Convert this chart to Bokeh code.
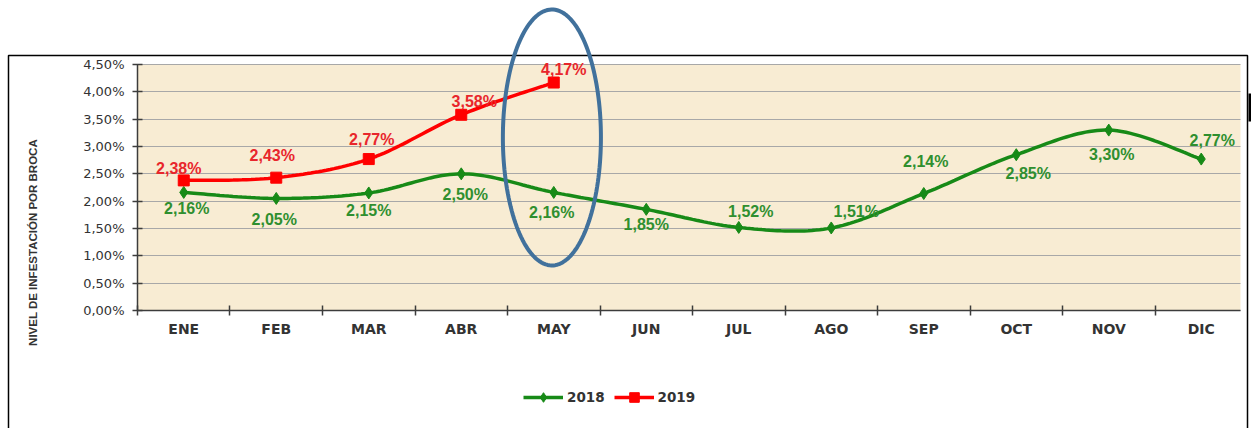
import numpy as np
from bokeh.plotting import figure
from bokeh.models import (ColumnDataSource, FixedTicker, Legend, LegendItem, Label,
                          PolyAnnotation, BoxAnnotation, CustomJSTickFormatter)
from bokeh.core.properties import value
from bokeh.embed import file_html
from bokeh.resources import INLINE

# ---------------- data ----------------
months = ["ENE", "FEB", "MAR", "ABR", "MAY", "JUN", "JUL", "AGO", "SEP", "OCT", "NOV", "DIC"]
y2018 = [2.16, 2.05, 2.15, 2.50, 2.16, 1.85, 1.52, 1.51, 2.14, 2.85, 3.30, 2.77]
y2019 = [2.38, 2.43, 2.77, 3.58, 4.17]
y_ticks = [0.0, 0.5, 1.0, 1.5, 2.0, 2.5, 3.0, 3.5, 4.0, 4.5]

# label placement (screen px offsets, style only)
dx2018 = [3, -2, 0, 4, -2, 0, 12, 25, 2, 12, 3, 11]
dy2018 = [16, 21, 18, 21, 20, 15, -16, -16, -32, 19, 24, -19]
dx2019 = [-5, -4, 3, 13, 10]
dy2019 = [-12, -22, -20, -13, -13]

FONT = "Liberation Sans"
TICKFONT = "DejaVu Sans"
GREEN = "#178a17"
GREEN_TXT = "#2f8f2f"
RED = "#ff0000"
RED_TXT = "#e8262c"
BG = "#f8ecd3"
AXIS = "#3c3c3c"

# plot-area extent in data units (x: categories, y: percent)
X0, X1 = -0.5, 11.4243
Y0, Y1 = 0.0, 4.5


def smooth(ys, n=24):
    """Catmull-Rom / Bezier smoothing (like Excel's smoothed line)."""
    xs = np.arange(len(ys), dtype=float)
    pts = np.column_stack([xs, np.asarray(ys, dtype=float)])
    P = np.vstack([pts[0], pts, pts[-1]])
    out = []
    for i in range(1, len(P) - 2):
        p0, p1, p2, p3 = P[i - 1], P[i], P[i + 1], P[i + 2]
        c1 = p1 + (p2 - p0) / 6.0
        c2 = p2 - (p3 - p1) / 6.0
        t = np.linspace(0, 1, n, endpoint=(i == len(P) - 3))[:, None]
        seg = ((1 - t) ** 3) * p1 + 3 * ((1 - t) ** 2) * t * c1 + 3 * (1 - t) * t ** 2 * c2 + t ** 3 * p2
        out.append(seg)
    out = np.vstack(out)
    return out[:, 0], out[:, 1]


def fmt(v):
    return f"{v:.2f}".replace(".", ",") + "%"


x18 = list(range(len(y2018)))
x19 = list(range(len(y2019)))
src18 = ColumnDataSource(dict(x=x18, y=y2018, lab=[fmt(v) for v in y2018], dx=dx2018, dy=dy2018))
src19 = ColumnDataSource(dict(x=x19, y=y2019, lab=[fmt(v) for v in y2019], dx=dx2019, dy=dy2019))
sx18, sy18 = smooth(y2018)
sx19, sy19 = smooth(y2019)

# the frame covers the whole canvas; axes are drawn at fixed locations inside it
p = figure(width=1251, height=428, x_range=(-1.98108, 11.54324), y_range=(-2.15854, 5.67073),
           output_backend="svg", toolbar_location=None)
p.min_border = 0
p.background_fill_color = "white"
p.border_fill_color = "white"
p.outline_line_color = None

# beige plot area
p.add_layout(BoxAnnotation(left=X0, right=X1, bottom=Y0, top=Y1,
                           fill_color=BG, fill_alpha=1, line_color=None, level="image"))

# grid
p.xgrid.grid_line_color = None
p.ygrid.grid_line_color = "#a8a8a8"
p.ygrid.grid_line_width = 1
p.ygrid.cross_bounds = (X0, X1)

# y axis
p.yaxis.fixed_location = X0
p.yaxis.ticker = FixedTicker(ticks=y_ticks)
p.yaxis.bounds = (Y0, Y1)
p.yaxis.formatter = CustomJSTickFormatter(code="return tick.toFixed(2).replace('.', ',') + '%';")
p.yaxis.axis_line_color = AXIS
p.yaxis.axis_line_width = 1.5
p.yaxis.major_tick_line_color = AXIS
p.yaxis.major_tick_line_width = 1.5
p.yaxis.major_tick_in = 5
p.yaxis.major_tick_out = 5
p.yaxis.minor_tick_line_color = None
p.yaxis.major_label_text_font = TICKFONT
p.yaxis.major_label_text_font_size = "13px"
p.yaxis.major_label_text_color = "#333333"
p.yaxis.major_label_standoff = 8

# x axis (labels at centres, ticks on category boundaries)
p.xaxis.fixed_location = Y0
p.xaxis.bounds = (X0, X1)
p.xaxis.ticker = FixedTicker(ticks=x18, minor_ticks=[i - 0.5 for i in range(len(months))])
p.xaxis.major_label_overrides = {i: m for i, m in enumerate(months)}
p.xaxis.axis_line_color = AXIS
p.xaxis.axis_line_width = 1.5
p.xaxis.major_tick_in = 0
p.xaxis.major_tick_out = 0
p.xaxis.minor_tick_line_color = AXIS
p.xaxis.minor_tick_line_width = 1.5
p.xaxis.minor_tick_in = 5
p.xaxis.minor_tick_out = 5
p.xaxis.major_label_text_font = TICKFONT
p.xaxis.major_label_text_font_size = "14px"
p.xaxis.major_label_text_font_style = "bold"
p.xaxis.major_label_text_color = "#333333"
p.xaxis.major_label_standoff = 6

# y-axis title (placed lower than centre, as in the original)
p.add_layout(Label(x=-1.6351, y=1.2439, text="NIVEL DE INFESTACIÓN POR BROCA",
                   angle=90, angle_units="deg", text_font=FONT, text_font_size="11.5px",
                   text_font_style="bold", text_color="#333333",
                   text_align="center", text_baseline="middle"))

# series
gl = p.line(sx18, sy18, line_color=GREEN, line_width=3.5)
gs = p.scatter("x", "y", source=src18, marker="diamond", size=12, color=GREEN)
rl = p.line(sx19, sy19, line_color=RED, line_width=3.5)
rs = p.scatter("x", "y", source=src19, marker="square", size=11, color=RED)

p.text("x", "y", text="lab", source=src18, x_offset="dx", y_offset="dy",
       text_font=value(FONT), text_font_size="16px", text_font_style="bold",
       text_color=GREEN_TXT, text_align="center", text_baseline="middle")
p.text("x", "y", text="lab", source=src19, x_offset="dx", y_offset="dy",
       text_font=value(FONT), text_font_size="16px", text_font_style="bold",
       text_color=RED_TXT, text_align="center", text_baseline="middle")

# outer chart border (open at the bottom edge of the image) and small dark mark at right
p.add_layout(BoxAnnotation(left=-1.8946, right=11.5, top=4.6646, bottom=-3.0,
                           fill_alpha=0, line_color="black", line_alpha=1, line_width=1.5))
p.add_layout(BoxAnnotation(left=11.5108, right=11.5432, top=3.9695, bottom=3.4573,
                           fill_color="black", fill_alpha=1, line_color=None))

# highlight ellipse around MAY
t = np.linspace(0, 2 * np.pi, 160)
p.add_layout(PolyAnnotation(xs=list(3.98 + 0.53 * np.cos(t)), ys=list(3.165 + 2.341 * np.sin(t)),
                            fill_alpha=0, line_color="#41719c", line_alpha=1, line_width=4,
                            level="overlay"))

legend = Legend(items=[LegendItem(label="2018", renderers=[gl, gs]),
                       LegendItem(label="2019", renderers=[rl, rs])],
                orientation="horizontal", location=(523, 19),
                glyph_width=40, glyph_height=24, label_standoff=4, spacing=9,
                padding=0, margin=0, border_line_color=None, background_fill_alpha=0,
                label_text_font=TICKFONT, label_text_font_size="13.5px",
                label_text_font_style="bold", label_text_color="#333333")
p.add_layout(legend, "center")

open("out.html", "w").write(file_html(p, INLINE))
